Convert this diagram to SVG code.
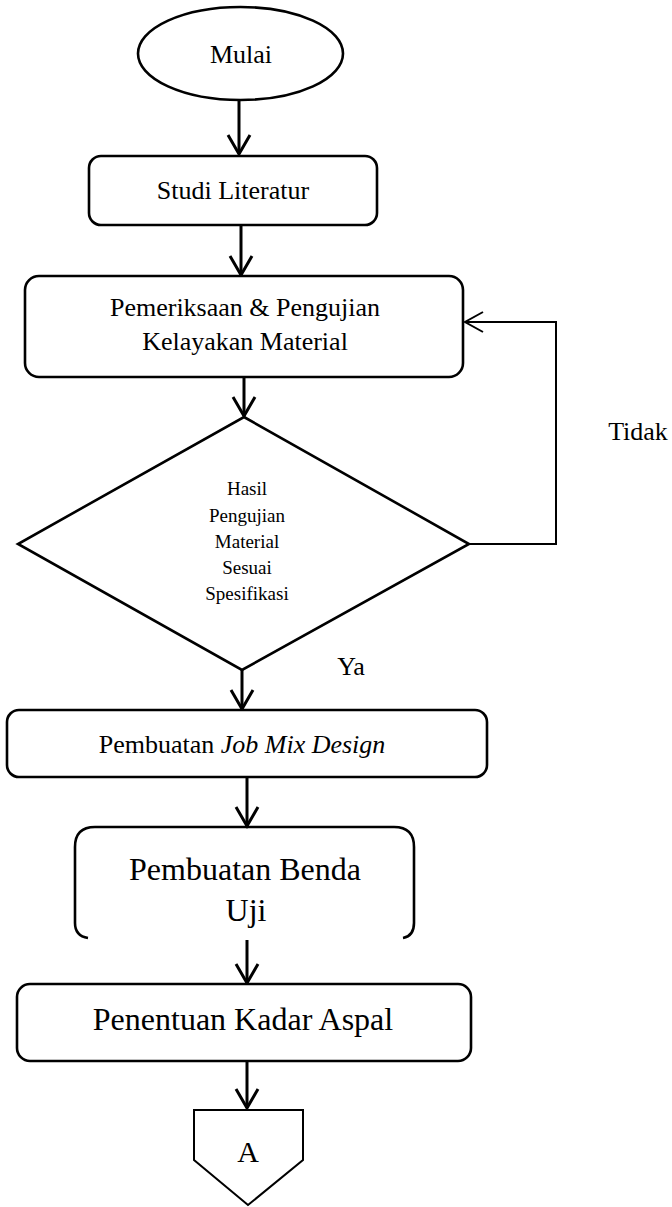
<svg xmlns="http://www.w3.org/2000/svg" width="672" height="1207" viewBox="0 0 672 1207">
<style>
  .shape { fill: #fff; stroke: #000; stroke-width: 2.6; }
  .thin { fill: none; stroke: #000; stroke-width: 2; }
  .conn { fill: none; stroke: #000; stroke-width: 3; }
  .fb { fill: none; stroke: #000; stroke-width: 2; }
  text { font-family: "Liberation Serif", "Times New Roman", serif; fill: #000; text-anchor: middle; }
  .t26 { font-size: 26px; }
  .t32 { font-size: 32px; }
  .t19 { font-size: 19px; }
</style>
<defs>
  <marker id="arr" markerUnits="userSpaceOnUse" markerWidth="30" markerHeight="30" refX="0" refY="0" viewBox="-22 -15 30 30" orient="auto" overflow="visible">
    <path d="M-19,-11 L0,0 L-19,11" fill="none" stroke="#000" stroke-width="3"/>
  </marker>
  <marker id="arrThin" markerUnits="userSpaceOnUse" markerWidth="30" markerHeight="30" refX="0" refY="0" viewBox="-22 -15 30 30" orient="auto" overflow="visible">
    <path d="M-18,-10 L0,0 L-18,10" fill="none" stroke="#000" stroke-width="2"/>
  </marker>
</defs>

<g id="connectors">
  <line class="conn" x1="239" y1="100" x2="239" y2="154" marker-end="url(#arr)"/>
  <line class="conn" x1="241" y1="225" x2="241" y2="275" marker-end="url(#arr)"/>
  <line class="conn" x1="244" y1="377" x2="244" y2="416" marker-end="url(#arr)"/>
  <line class="conn" x1="242" y1="670" x2="242" y2="709" marker-end="url(#arr)"/>
  <line class="conn" x1="247" y1="777" x2="247" y2="826" marker-end="url(#arr)"/>
  <line class="conn" x1="247" y1="940" x2="247" y2="983" marker-end="url(#arr)"/>
  <line class="conn" x1="247" y1="1061" x2="247" y2="1108" marker-end="url(#arr)"/>
  <polyline class="fb" points="469,544 556,544 556,322 465,322" marker-end="url(#arrThin)"/>
  <text class="t26" x="638" y="440">Tidak</text>
  <text class="t26" x="351" y="675">Ya</text>
</g>

<g id="mulai">
  <ellipse class="shape" cx="240.5" cy="53.5" rx="102.5" ry="46.5"/>
  <text class="t26" x="241" y="63">Mulai</text>
</g>

<g id="studi">
  <rect class="shape" x="89" y="156" width="288" height="69" rx="12"/>
  <text class="t26" x="233" y="199">Studi Literatur</text>
</g>

<g id="pemeriksaan">
  <rect class="shape" x="25" y="276" width="438" height="101" rx="14"/>
  <text class="t26" x="245" y="316">Pemeriksaan &amp; Pengujian</text>
  <text class="t26" x="245" y="350">Kelayakan Material</text>
</g>

<g id="keputusan">
  <polygon class="shape" points="244,417 469,544 242,670 18,544"/>
  <text class="t19" x="247" y="495">Hasil</text>
  <text class="t19" x="247" y="522">Pengujian</text>
  <text class="t19" x="247" y="548">Material</text>
  <text class="t19" x="247" y="574">Sesuai</text>
  <text class="t19" x="247" y="600">Spesifikasi</text>
</g>

<g id="jobmix">
  <rect class="shape" x="7" y="710" width="480" height="67" rx="12"/>
  <text class="t26" x="242" y="753">Pembuatan <tspan font-style="italic">Job Mix Design</tspan></text>
</g>

<g id="benda">
  <path class="shape" fill="none" d="M88,938 Q75,936 75,923 L75,847 Q75,827 95,827 L394,827 Q414,827 414,847 L414,923 Q414,936 403,938" style="fill:none"/>
  <text class="t32" x="245" y="880">Pembuatan Benda</text>
  <text class="t32" x="246" y="921">Uji</text>
</g>

<g id="penentuan">
  <rect class="shape" x="17" y="984" width="454" height="77" rx="13"/>
  <text class="t32" x="243" y="1030">Penentuan Kadar Aspal</text>
</g>

<g id="konektorA">
  <polygon class="thin" points="194,1110 303,1110 303,1160 248,1205 194,1160"/>
  <text font-size="30" x="248" y="1162">A</text>
</g>
</svg>
